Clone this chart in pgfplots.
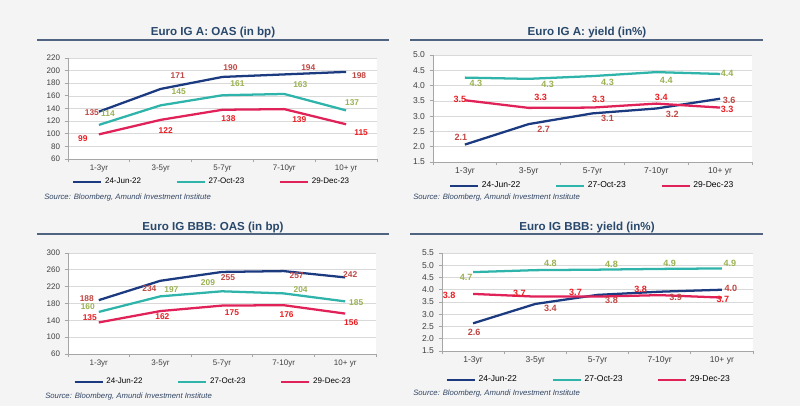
\documentclass[border=0pt]{standalone}
\usepackage{pgfplots}
\pgfplotsset{compat=1.18}
\usepackage{fontspec}
\setmainfont{Liberation Sans}
\definecolor{navycol}{RGB}{28,58,128}
\definecolor{tealcol}{RGB}{46,180,170}
\definecolor{redcol}{RGB}{224,34,88}
\definecolor{labA}{RGB}{192,72,68}
\definecolor{labB}{RGB}{155,178,82}
\definecolor{labC}{RGB}{235,30,35}
\definecolor{titlecol}{RGB}{40,72,108}
\definecolor{rulecol}{RGB}{80,100,130}
\definecolor{bgcol}{RGB}{244,244,244}
\definecolor{gridcol}{RGB}{217,217,217}
\definecolor{axiscol}{RGB}{166,166,166}
\definecolor{tickcol}{RGB}{64,64,64}
\definecolor{sourcecol}{RGB}{50,70,100}
\pgfplotsset{
  panel/.style n args={1}{
    scale only axis, clip=false,
    xmin=-0.5, xmax=4.5,
    xtick={-0.5,0.5,1.5,2.5,3.5,4.5}, xticklabels={,,,,,},
    extra x ticks={0,1,2,3,4},
    extra x tick labels={1-3yr,3-5yr,5-7yr,7-10yr,10+ yr},
    extra x tick style={major tick length=0pt},
    axis x line*=bottom, axis y line*=left,
    axis line style={draw=axiscol, line width=0.6pt},
    tick align=outside, major tick length=2.5pt,
    tick style={draw=axiscol, line width=0.6pt},
    ymajorgrids, major grid style={draw=gridcol, line width=0.5pt},
    axis background/.style={fill=white},
    tick label style={text=tickcol, font=\fontsize{#1}{#1}\selectfont},
    xticklabel style={yshift=-1pt},
    /pgf/number format/assume math mode=true,
    legend columns=3,
    legend style={draw=none, fill=none, font=\fontsize{#1}{#1}\selectfont,
      /tikz/every even column/.append style={column sep=24pt}},
    legend image code/.code={\draw[##1, line width=1.7pt] (0pt,0pt) -- (21pt,0pt);},
  },
  lab/.style n args={2}{nodes near coords, point meta=explicit symbolic,
    visualization depends on={\thisrow{dx}\as\dx},
    visualization depends on={\thisrow{dy}\as\dy},
    every node near coord/.append style={anchor=center, inner sep=0pt,
      xshift=\dx*0.75pt, yshift=\dy*0.75pt,
      font=\bfseries\fontsize{#2}{#2}\selectfont, text=#1}},
  sA/.style={navycol, line width=1.7pt},
  sB/.style={tealcol, line width=1.7pt},
  sC/.style={redcol, line width=1.7pt},
}
\begin{document}
\begin{tikzpicture}
\useasboundingbox (0,0) rectangle (600pt,304.5pt);
\fill[bgcol] (0,0) rectangle (600pt,304.5pt);
\begin{scope}[x=0.75pt, y=-0.75pt, yshift=304.5pt]
  \node[font=\bfseries\fontsize{8.7}{10}\selectfont, text=titlecol] at (213,33) {Euro IG A: OAS (in bp)};
  \node[font=\bfseries\fontsize{8.7}{10}\selectfont, text=titlecol] at (587,33) {Euro IG A: yield (in\%)};
  \node[font=\bfseries\fontsize{8.7}{10}\selectfont, text=titlecol] at (213,228) {Euro IG BBB: OAS (in bp)};
  \node[font=\bfseries\fontsize{8.7}{10}\selectfont, text=titlecol] at (587,228) {Euro IG BBB: yield (in\%)};
  \draw[rulecol, line width=1.1pt] (37,40) -- (389,40);
  \draw[rulecol, line width=1.1pt] (410,40) -- (763,40);
  \draw[rulecol, line width=1.1pt] (37,234) -- (389,234);
  \draw[rulecol, line width=1.1pt] (410,234) -- (763,234);
  \node[anchor=west, inner sep=0pt, font=\itshape\fontsize{5.8}{6}\selectfont, text=sourcecol] at (44,198) {Source: Bloomberg, Amundi Investment Institute};
  \node[anchor=west, inner sep=0pt, font=\itshape\fontsize{5.8}{6}\selectfont, text=sourcecol] at (413,198) {Source: Bloomberg, Amundi Investment Institute};
  \node[anchor=west, inner sep=0pt, font=\itshape\fontsize{5.8}{6}\selectfont, text=sourcecol] at (45,397) {Source: Bloomberg, Amundi Investment Institute};
  \node[anchor=west, inner sep=0pt, font=\itshape\fontsize{5.8}{6}\selectfont, text=sourcecol] at (413,394) {Source: Bloomberg, Amundi Investment Institute};
\end{scope}

% Panel 1: Euro IG A OAS
\begin{axis}[panel={6}, at={(51pt,185.25pt)}, anchor=south west,
  width=231.75pt, height=75.75pt,
  ymin=60, ymax=220, ytick={60,80,...,220},
  legend style={at={(0.466,-0.228)}, anchor=center}]
\addplot[sA, lab={labA}{6.3}] table[x=x, y=y, meta=l] {
x y l dx dy
0 135 135 -7 -1
1 171 171 17 13
2 190 190 8 9
3 194 194 24 6.5
4 198 198 13 -4
};
\addlegendentry{24-Jun-22}
\addplot[sB, lab={labB}{6.3}] table[x=x, y=y, meta=l] {
x y l dx dy
0 114 114 9 11
1 145 145 18 14
2 161 161 15 12
3 163 163 16 9
4 137 137 6 8
};
\addlegendentry{27-Oct-23}
\addplot[sC, lab={labC}{6.3}] table[x=x, y=y, meta=l] {
x y l dx dy
0 99 99 -16 -4
1 122 122 5 -11
2 138 138 6 -9
3 139 139 15 -10
4 115 115 15 -8
};
\addlegendentry{29-Dec-23}
\end{axis}

% Panel 2: Euro IG A yield
\begin{axis}[panel={6.4}, at={(324.75pt,183pt)}, anchor=south west,
  width=239.25pt, height=80.25pt,
  ymin=1.5, ymax=5, ytick={1.5,2,...,5},
  yticklabel style={/pgf/number format/.cd, fixed, fixed zerofill, precision=1},
  legend style={at={(0.5,-0.224)}, anchor=center}]
\addplot[sA, lab={labA}{6.8}] table[x=x, y=y, meta=l] {
x y l dx dy
0 2.07 2.1 -4 7.6
1 2.74 2.7 15 -5
2 3.09 3.1 15 -4.6
3 3.25 3.2 16 -5.5
4 3.57 3.6 9 -1.3
};
\addlegendentry{24-Jun-22}
\addplot[sB, lab={labB}{6.8}] table[x=x, y=y, meta=l] {
x y l dx dy
0 4.26 4.3 11 -6
1 4.22 4.3 19 -5.6
2 4.31 4.3 15 -6.3
3 4.44 4.4 10 -8.3
4 4.38 4.4 7 0.6
};
\addlegendentry{27-Oct-23}
\addplot[sC, lab={labC}{6.8}] table[x=x, y=y, meta=l] {
x y l dx dy
0 3.52 3.5 -5 1
1 3.27 3.3 12 10
2 3.28 3.3 6 8.6
3 3.41 3.4 5 6.6
4 3.28 3.3 7 -1.4
};
\addlegendentry{29-Dec-23}
\end{axis}

% Panel 3: Euro IG BBB OAS
\begin{axis}[panel={6}, at={(51pt,39pt)}, anchor=south west,
  width=231pt, height=75.75pt,
  ymin=60, ymax=300, ytick={60,100,...,300},
  legend style={at={(0.472,-0.277)}, anchor=center}]
\addplot[sA, lab={labA}{6.3}] table[x=x, y=y, meta=l] {
x y l dx dy
0 188 188 -12 2
1 234 234 -11 -8
2 255 255 6 -6
3 257 257 13 -5
4 242 242 5 3
};
\addlegendentry{24-Jun-22}
\addplot[sB, lab={labB}{6.3}] table[x=x, y=y, meta=l] {
x y l dx dy
0 160 160 -11 5
1 197 197 11 7
2 209 209 -14 9
3 204 204 17 4
4 185 185 11 -1
};
\addlegendentry{27-Oct-23}
\addplot[sC, lab={labC}{6.3}] table[x=x, y=y, meta=l] {
x y l dx dy
0 135 135 -9 5
1 162 162 2 -6
2 175 175 10 -7
3 176 176 3 -9
4 156 156 6 -9
};
\addlegendentry{29-Dec-23}
\end{axis}

% Panel 4: Euro IG BBB yield
\begin{axis}[panel={6.4}, at={(331.5pt,41.25pt)}, anchor=south west,
  width=233.25pt, height=73.5pt,
  ymin=1.5, ymax=5.5, ytick={1.5,2,...,5.5},
  yticklabel style={/pgf/number format/.cd, fixed, fixed zerofill, precision=1},
  legend style={at={(0.473,-0.296)}, anchor=center}]
\addplot[sA, lab={labA}{6.8}] table[x=x, y=y, meta=l] {
x y l dx dy
0 2.63 2.6 1 -9
1 3.42 3.4 15 -4
2 3.79 3.8 14 -5
3 3.92 3.9 16 -6
4 4.00 4.0 9 1
};
\addlegendentry{24-Jun-22}
\addplot[sB, lab={labB}{6.8}] table[x=x, y=y, meta=l] {
x y l dx dy
0 4.72 4.7 -7 -5
1 4.80 4.8 15 7
2 4.82 4.8 14 5
3 4.85 4.9 10 6
4 4.87 4.9 8 5
};
\addlegendentry{27-Oct-23}
\addplot[sC, lab={labC}{6.8}] table[x=x, y=y, meta=l] {
x y l dx dy
0 3.83 3.8 -24 -1
1 3.72 3.7 -16 3
2 3.72 3.7 -22 4
3 3.78 3.8 -19 6
4 3.68 3.7 1 -1.5
};
\addlegendentry{29-Dec-23}
\end{axis}
\end{tikzpicture}
\end{document}
